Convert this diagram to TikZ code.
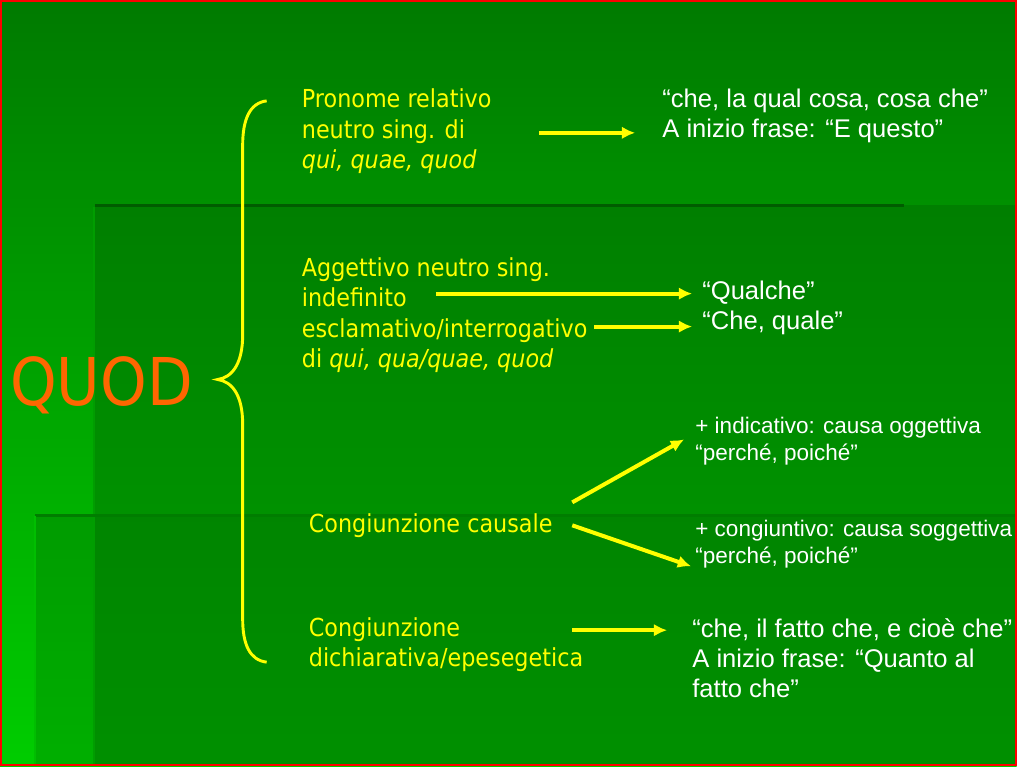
\documentclass[tikz,border=0pt]{standalone}
\usepackage{fontspec}
\setmainfont{Liberation Sans}
\newfontfamily\tahfont[FakeStretch=0.9]{DejaVu Sans}
\usetikzlibrary{arrows.meta}
\definecolor{slidetop}{RGB}{0,122,0}
\definecolor{slidebot}{RGB}{0,205,0}
\definecolor{panelgreen}{RGB}{0,107,0}
\definecolor{edgegreen}{RGB}{0,92,0}
\definecolor{quodorange}{RGB}{255,102,0}
\definecolor{hiyellow}{RGB}{255,255,0}

\begin{document}
\begin{tikzpicture}[x=0.75pt,y=-0.75pt,
  yel/.style={anchor=north west,inner sep=0pt,align=left,text=hiyellow,font=\tahfont\fontsize{18.6}{22.7}\selectfont},
  wht/.style={anchor=north west,inner sep=0pt,align=left,text=white,font=\fontsize{19.2}{22.5}\selectfont},
  whtsmall/.style={wht,font=\fontsize{16.9}{20.25}\selectfont},
  arr/.style={hiyellow,line width=3pt,-{Latex[length=10pt,width=9.5pt]}}]
% slide background
\shade[top color=slidetop,bottom color=slidebot] (0,0) rectangle (1018,767);
\fill[panelgreen,fill opacity=0.45] (95,205) rectangle (1018,767);
\fill[panelgreen,fill opacity=0.3] (35,515) rectangle (1018,767);
\draw[edgegreen,line width=2.5pt] (95,206)--(905,206);
\draw[edgegreen!60!green,line width=1.5pt] (94,207)--(94,767);
\draw[edgegreen!80!green,line width=2pt] (35,516)--(1018,516);
\draw[edgegreen!40!green,line width=1.2pt] (35,517)--(35,767);
\draw[red,line width=1.5pt] (1,1) rectangle (1017,766);

\path (10,406) node(quod)[anchor=base west,inner sep=0pt,text=quodorange,font=\tahfont\fontsize{49.5}{50}\selectfont]{QUOD}
(302,89) node(pron)[yel]{Pronome relativo\\neutro sing. di\\\textit{qui, quae, quod}}
(302,258) node(agg)[yel]{Aggettivo neutro sing.\\indefinito\\esclamativo/interrogativo\\di \textit{qui, qua/quae, quod}}
(309,514) node(caus)[yel]{Congiunzione causale}
(309,618) node(dich)[yel]{Congiunzione\\dichiarativa/epesegetica}
(663,89) node(cosa)[wht]{“che, la qual cosa, cosa che”\\A inizio frase: “E questo”}
(703,281) node(qual)[wht]{“Qualche”\\“Che, quale”}
(696,417) node(indic)[whtsmall]{+ indicativo: causa oggettiva\\“perché, poiché”}
(696,521) node(congv)[whtsmall]{+ congiuntivo: causa soggettiva\\“perché, poiché”}
(693,619) node(fatto)[wht]{“che, il fatto che, e cioè che”\\A inizio frase: “Quanto al\\fatto che”};

% brace
\draw[hiyellow,line width=2.2pt] (267,101) .. controls (250,103) and (243,120) .. (243,145) --(243,335)
  .. controls (243,365) and (232,378) .. (218,380) .. controls (232,382) and (243,395) .. (243,425)
  --(243,620) .. controls (243,645) and (250,661) .. (267,663);

\coordinate (a1s) at (540,133); \coordinate (a1e) at (636,133);
\coordinate (a2s) at (437,294); \coordinate (a2e) at (693,294);
\coordinate (a3s) at (595,327); \coordinate (a3e) at (693,327);
\coordinate (a4s) at (573,503); \coordinate (a4e) at (685,440);
\coordinate (a5s) at (573,526); \coordinate (a5e) at (692,567);
\coordinate (a6s) at (573,631); \coordinate (a6e) at (668,631);
\draw[arr](a1s)--(a1e);
\draw[arr](a2s)--(a2e);
\draw[arr](a3s)--(a3e);
\draw[arr](a4s)--(a4e);
\draw[arr](a5s)--(a5e);
\draw[arr](a6s)--(a6e);
\end{tikzpicture}
\end{document}
